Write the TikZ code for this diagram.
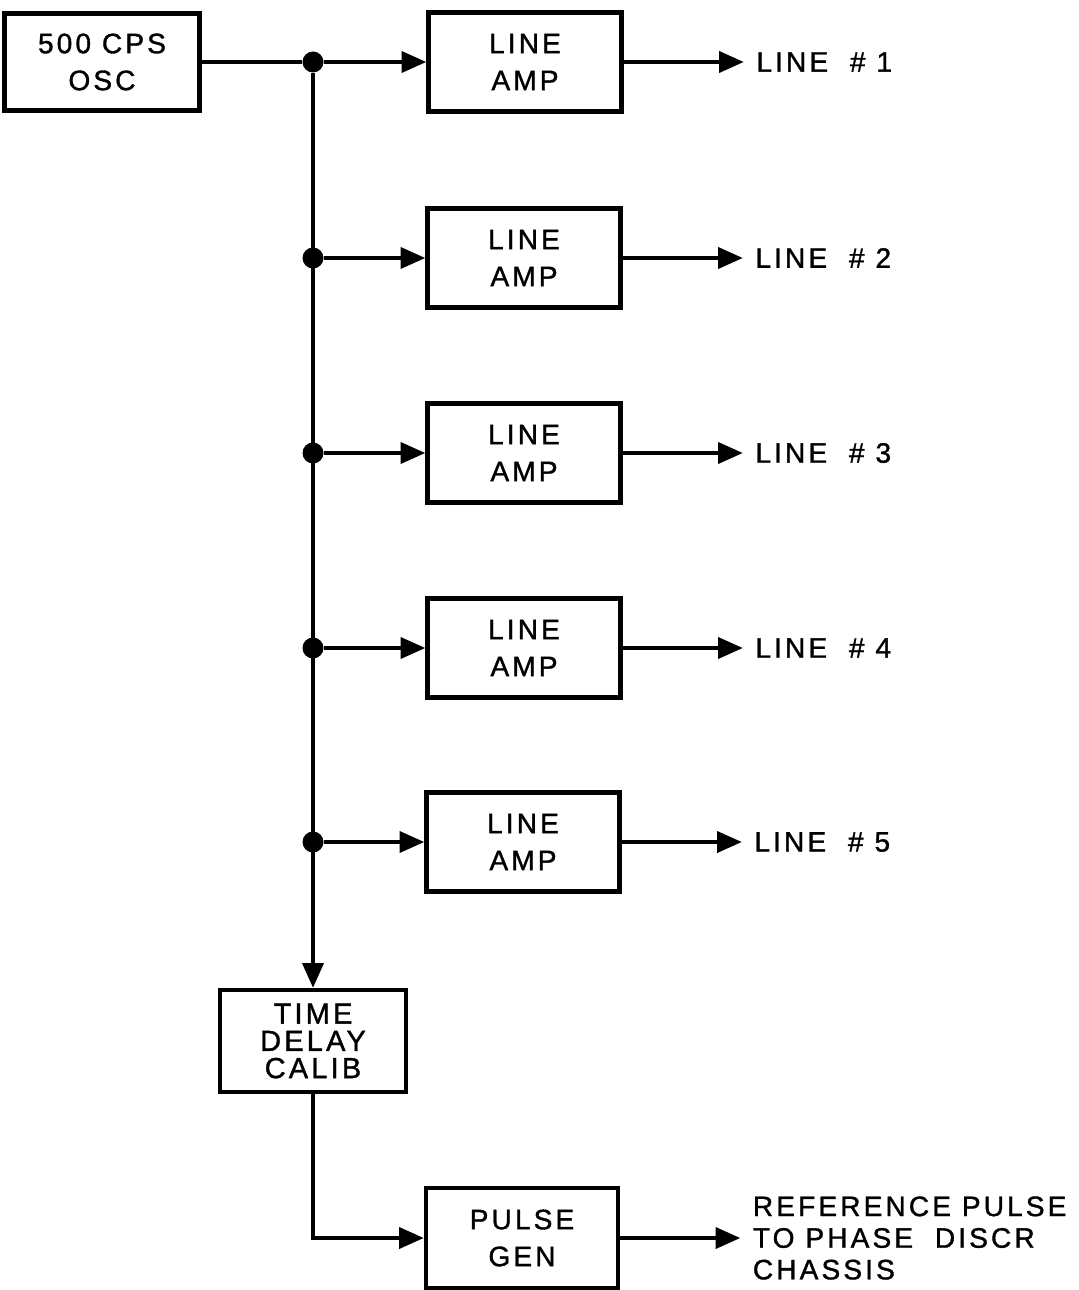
\documentclass[tikz,border=0pt]{standalone}
\usepackage{fontspec}
\setmainfont[LetterSpace=11,FakeBold=1.2]{Liberation Sans}
\usetikzlibrary{arrows.meta,positioning}

\begin{document}
\begin{tikzpicture}[x=0.02cm,y=-0.02cm,
  blkbox/.style={draw,line width=2.6pt,minimum width=3.86cm,minimum height=1.98cm,
    align=center,font=\fontsize{16}{21}\selectfont,inner sep=2pt},
  sigline/.style={line width=1.9pt},
  sigarrow/.style={sigline,-{Triangle[length=14pt,width=12pt]}},
  busdot/.style={circle,fill=black,inner sep=0pt,minimum size=0.42cm},
  outlabel/.style={anchor=west,font=\fontsize{16}{20}\selectfont,align=left,inner xsep=7pt}
]
  \useasboundingbox (0,0) rectangle (1078,1290);
  % oscillator
  \node[blkbox,minimum width=3.9cm,minimum height=1.94cm] (osc) at (102,62) {500 CPS\\OSC};
  % line amplifiers
  \node[blkbox] (amp1) at (525,62) {LINE\\AMP};
  \node[blkbox] (amp2) at (524,258) {LINE\\AMP};
  \node[blkbox] (amp3) at (524,453) {LINE\\AMP};
  \node[blkbox] (amp4) at (524,648) {LINE\\AMP};
  \node[blkbox] (amp5) at (523,842) {LINE\\AMP};
  % calibrator and pulse generator
  \node[blkbox,minimum width=3.72cm,minimum height=2.04cm,
    font=\fontsize{16.5}{15.5}\selectfont] (tdc) at (313,1041) {TIME\\DELAY\\CALIB};
  \node[blkbox,minimum width=3.84cm,minimum height=2cm] (pgen) at (522,1238) {PULSE\\GEN};
  % bus taps
  \foreach \i/\yy in {1/62,2/258,3/453,4/648,5/842}
    \node[busdot] (tap\i) at (313,\yy) {};
  % outputs
  \foreach \i in {1,...,5}
    \node[outlabel] (out\i) at ([xshift=2.4cm]amp\i.east) {LINE\ \ \#\ \i};
  \node[outlabel,font=\fontsize{16}{18}\selectfont] (refout) at ([xshift=2.4cm]pgen.east)
    {REFERENCE PULSE\\TO PHASE\ \ DISCR\\CHASSIS};
  % connectors
  \draw[sigline] (osc.east) -- (tap1);
  \draw[sigarrow] (tap1) -- (tdc.north);
  \foreach \i in {1,...,5} {
    \draw[sigarrow] (tap\i) -- (amp\i.west);
    \draw[sigarrow] (amp\i.east) -- (out\i.west);
  }
  \draw[sigarrow] (tdc.south) |- (pgen.west);
  \draw[sigarrow] (pgen.east) -- (refout.west);
\end{tikzpicture}
\end{document}
